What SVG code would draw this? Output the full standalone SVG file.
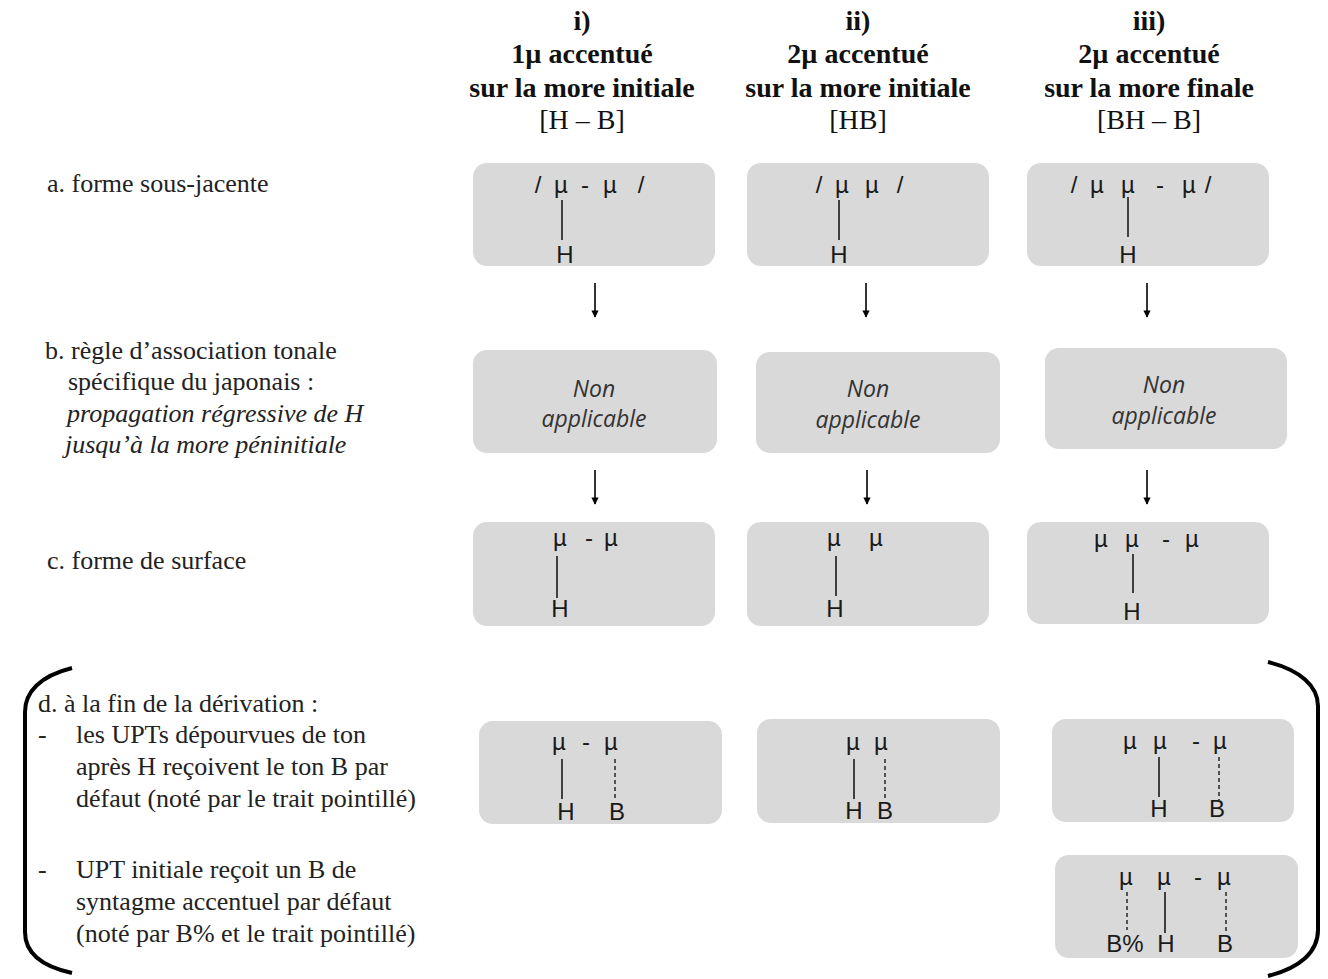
<svg xmlns="http://www.w3.org/2000/svg" width="1328" height="979" viewBox="0 0 1328 979">
<style>
.hd{font-family:"Liberation Serif","Times New Roman",serif;font-size:28px;font-weight:bold;fill:#111;text-anchor:middle}
.hr{font-family:"Liberation Serif","Times New Roman",serif;font-size:28px;fill:#111;text-anchor:middle}
.lb{font-family:"Liberation Serif","Times New Roman",serif;font-size:26px;fill:#222}
.lbi{font-family:"Liberation Serif","Times New Roman",serif;font-size:26px;fill:#222;font-style:italic}
.box{fill:#d9d9d9}
.m{font-family:"Liberation Sans",Arial,sans-serif;font-size:24px;fill:#1a1a1a;text-anchor:middle}
.na{font-family:"Open Sans","Liberation Sans",sans-serif;font-size:23px;font-style:italic;fill:#333;text-anchor:middle}
.ln{stroke:#1a1a1a;stroke-width:1.6;fill:none}
.dl{stroke:#1a1a1a;stroke-width:1.4;fill:none;stroke-dasharray:4 3}
.ar{stroke:#000;stroke-width:1.6;fill:none;marker-end:url(#ah)}
.br{stroke:#000;stroke-width:4;fill:none}
</style>
<defs>
<marker id="ah" viewBox="0 0 10 10" refX="9" refY="5" markerWidth="6" markerHeight="4.5" markerUnits="strokeWidth" orient="auto">
<path d="M0,0 L10,5 L0,10 z" fill="#000"/>
</marker>
</defs>

<g id="headers">
<text class="hd" x="582" y="30">i)</text>
<text class="hd" x="582" y="63">1µ accentué</text>
<text class="hd" x="582" y="97">sur la more initiale</text>
<text class="hr" x="582" y="129">[H – B]</text>
<text class="hd" x="858" y="30">ii)</text>
<text class="hd" x="858" y="63">2µ accentué</text>
<text class="hd" x="858" y="97">sur la more initiale</text>
<text class="hr" x="858" y="129">[HB]</text>
<text class="hd" x="1149" y="30">iii)</text>
<text class="hd" x="1149" y="63">2µ accentué</text>
<text class="hd" x="1149" y="97">sur la more finale</text>
<text class="hr" x="1149" y="129">[BH – B]</text>
</g>

<g id="labels">
<text class="lb" x="47" y="192">a. forme sous-jacente</text>
<text class="lb" x="45" y="359">b. règle d’association tonale</text>
<text class="lb" x="68" y="390">spécifique du japonais :</text>
<text class="lbi" x="67" y="422">propagation régressive de H</text>
<text class="lbi" x="65" y="453">jusqu’à la more péninitiale</text>
<text class="lb" x="47" y="569">c. forme de surface</text>
<text class="lb" x="38" y="712">d. à la fin de la dérivation :</text>
<text class="lb" x="38" y="743">-</text>
<text class="lb" x="76" y="743">les UPTs dépourvues de ton</text>
<text class="lb" x="76" y="775">après H reçoivent le ton B par</text>
<text class="lb" x="76" y="807">défaut (noté par le trait pointillé)</text>
<text class="lb" x="38" y="878">-</text>
<text class="lb" x="76" y="878">UPT initiale reçoit un B de</text>
<text class="lb" x="76" y="910">syntagme accentuel par défaut</text>
<text class="lb" x="76" y="942">(noté par B% et le trait pointillé)</text>
</g>

<g id="bracket-left"><path class="br" d="M72,668 C40,676 25,692 25,712 L25,932 C25,952 40,966 72,973"/></g>
<g id="bracket-right"><path class="br" d="M1268,662 C1300,670 1318,686 1318,706 L1318,930 C1318,952 1300,968 1268,976"/></g>

<!-- row a -->
<g id="a1">
<rect class="box" x="473" y="163" width="242" height="103" rx="14"/>
<text class="m" y="193"><tspan x="538">/</tspan><tspan x="561">µ</tspan><tspan x="585">-</tspan><tspan x="610">µ</tspan><tspan x="641">/</tspan></text>
<line class="ln" x1="562" y1="200" x2="562" y2="240"/>
<text class="m" x="565" y="263">H</text>
</g>
<g id="a2">
<rect class="box" x="747" y="163" width="242" height="103" rx="14"/>
<text class="m" y="193"><tspan x="819">/</tspan><tspan x="842">µ</tspan><tspan x="872">µ</tspan><tspan x="900">/</tspan></text>
<line class="ln" x1="839" y1="200" x2="839" y2="240"/>
<text class="m" x="839" y="263">H</text>
</g>
<g id="a3">
<rect class="box" x="1027" y="163" width="242" height="103" rx="14"/>
<text class="m" y="193"><tspan x="1074">/</tspan><tspan x="1097">µ</tspan><tspan x="1128">µ</tspan><tspan x="1160">-</tspan><tspan x="1189">µ</tspan><tspan x="1208">/</tspan></text>
<line class="ln" x1="1128" y1="197" x2="1128" y2="237"/>
<text class="m" x="1128" y="263">H</text>
</g>

<!-- row b -->
<g id="b1">
<rect class="box" x="473" y="350" width="244" height="103" rx="14"/>
<text class="na" x="594" y="397">Non</text>
<text class="na" x="594" y="427">applicable</text>
</g>
<g id="b2">
<rect class="box" x="756" y="352" width="244" height="101" rx="14"/>
<text class="na" x="868" y="397">Non</text>
<text class="na" x="868" y="428">applicable</text>
</g>
<g id="b3">
<rect class="box" x="1045" y="348" width="242" height="101" rx="14"/>
<text class="na" x="1164" y="393">Non</text>
<text class="na" x="1164" y="424">applicable</text>
</g>

<!-- row c -->
<g id="c1">
<rect class="box" x="473" y="522" width="242" height="104" rx="14"/>
<text class="m" y="546"><tspan x="560">µ</tspan><tspan x="589">-</tspan><tspan x="611">µ</tspan></text>
<line class="ln" x1="557" y1="556" x2="557" y2="598"/>
<text class="m" x="560" y="617">H</text>
</g>
<g id="c2">
<rect class="box" x="747" y="522" width="242" height="104" rx="14"/>
<text class="m" y="546"><tspan x="834">µ</tspan><tspan x="876">µ</tspan></text>
<line class="ln" x1="836" y1="556" x2="836" y2="596"/>
<text class="m" x="835" y="617">H</text>
</g>
<g id="c3">
<rect class="box" x="1027" y="522" width="242" height="102" rx="14"/>
<text class="m" y="547"><tspan x="1101">µ</tspan><tspan x="1132">µ</tspan><tspan x="1166">-</tspan><tspan x="1192">µ</tspan></text>
<line class="ln" x1="1133" y1="554" x2="1133" y2="593"/>
<text class="m" x="1132" y="620">H</text>
</g>

<!-- row d -->
<g id="d1">
<rect class="box" x="479" y="721" width="243" height="103" rx="14"/>
<text class="m" y="750"><tspan x="559">µ</tspan><tspan x="586">-</tspan><tspan x="611">µ</tspan></text>
<line class="ln" x1="562" y1="759" x2="562" y2="799"/>
<line class="dl" x1="615" y1="759" x2="615" y2="800"/>
<text class="m" x="566" y="820">H</text>
<text class="m" x="617" y="820">B</text>
</g>
<g id="d2">
<rect class="box" x="757" y="719" width="243" height="104" rx="14"/>
<text class="m" y="750"><tspan x="853">µ</tspan><tspan x="881">µ</tspan></text>
<line class="ln" x1="854" y1="759" x2="854" y2="799"/>
<line class="dl" x1="885" y1="759" x2="885" y2="800"/>
<text class="m" x="854" y="819">H</text>
<text class="m" x="885" y="819">B</text>
</g>
<g id="d3a">
<rect class="box" x="1052" y="719" width="242" height="103" rx="14"/>
<text class="m" y="749"><tspan x="1130">µ</tspan><tspan x="1160">µ</tspan><tspan x="1196">-</tspan><tspan x="1220">µ</tspan></text>
<line class="ln" x1="1159" y1="757" x2="1159" y2="797"/>
<line class="dl" x1="1219" y1="757" x2="1219" y2="800"/>
<text class="m" x="1159" y="817">H</text>
<text class="m" x="1217" y="817">B</text>
</g>
<g id="d3b">
<rect class="box" x="1055" y="855" width="243" height="103" rx="14"/>
<text class="m" y="885"><tspan x="1126">µ</tspan><tspan x="1164">µ</tspan><tspan x="1198">-</tspan><tspan x="1224">µ</tspan></text>
<line class="dl" x1="1127" y1="892" x2="1127" y2="930"/>
<line class="ln" x1="1165" y1="892" x2="1165" y2="933"/>
<line class="dl" x1="1226" y1="892" x2="1226" y2="933"/>
<text class="m" x="1125" y="952">B%</text>
<text class="m" x="1166" y="952">H</text>
<text class="m" x="1225" y="952">B</text>
</g>

<g id="connectors">
<line class="ar" x1="595" y1="283" x2="595" y2="317"/>
<line class="ar" x1="866" y1="283" x2="866" y2="317"/>
<line class="ar" x1="1147" y1="283" x2="1147" y2="317"/>
<line class="ar" x1="595" y1="470" x2="595" y2="504"/>
<line class="ar" x1="867" y1="470" x2="867" y2="504"/>
<line class="ar" x1="1147" y1="470" x2="1147" y2="504"/>
</g>
</svg>
